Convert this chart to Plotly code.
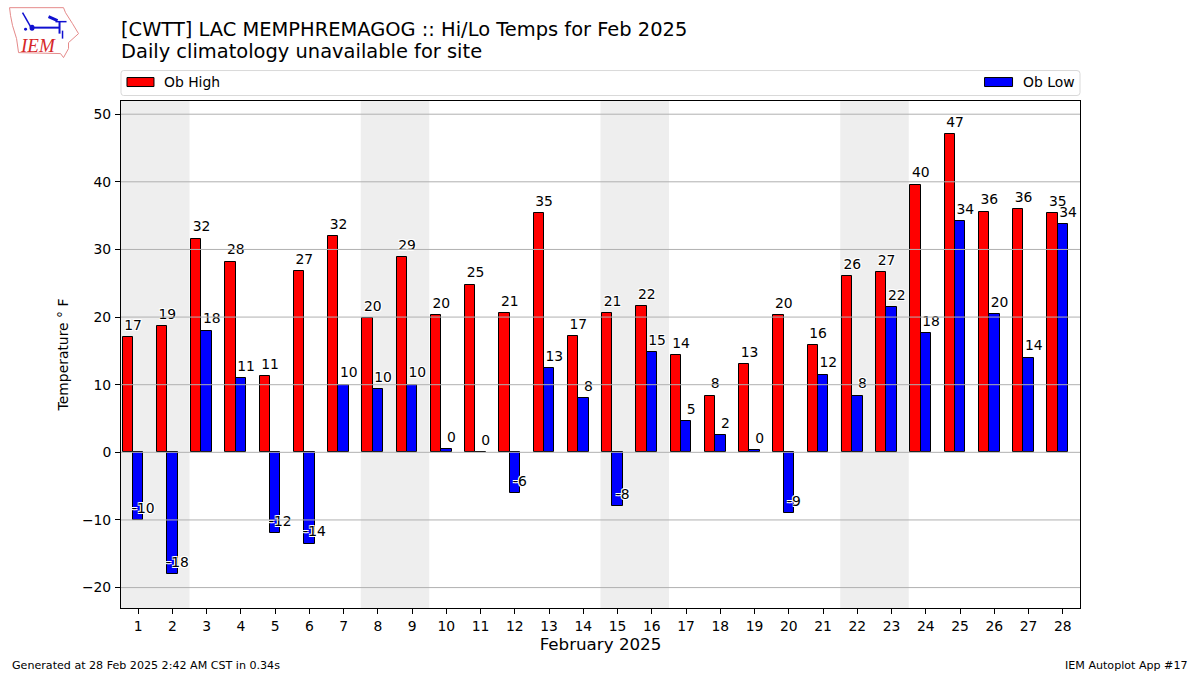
import plotly.graph_objects as go

days = list(range(1, 29))
ob_high = [17, 18.7, 31.6, 28.2, 11.3, 26.8, 32, 19.9, 28.9, 20.3, 24.8, 20.6, 35.4, 17.2,
           20.6, 21.6, 14.4, 8.4, 13, 20.3, 15.9, 26, 26.6, 39.6, 47, 35.6, 36, 35.4]
ob_low = [-10, -18, 18, 11, -12, -13.5, 10, 9.4, 10, 0.5, 0, -6, 12.5, 8,
          -8, 14.8, 4.6, 2.5, 0.3, -9, 11.5, 8.4, 21.5, 17.6, 34.2, 20.4, 14, 33.8]
high_labels = [17, 19, 32, 28, 11, 27, 32, 20, 29, 20, 25, 21, 35, 17,
               21, 22, 14, 8, 13, 20, 16, 26, 27, 40, 47, 36, 36, 35]
low_labels = [-10, -18, 18, 11, -12, -14, 10, 10, 10, 0, 0, -6, 13, 8,
              -8, 15, 5, 2, 0, -9, 12, 8, 22, 18, 34, 20, 14, 34]
weekend_spans = [(0.5, 2.5), (7.5, 9.5), (14.5, 16.5), (21.5, 23.5)]
y_ticks = [-20, -10, 0, 10, 20, 30, 40, 50]

FONT = "DejaVu Sans"
W, H = 1200, 675
L, R, T, B = 120.5, 1080, 100.5, 608.5
HALO = "1px 1px 0 #fff, -1px -1px 0 #fff, 1px -1px 0 #fff, -1px 1px 0 #fff"


def px(x):
    return (x - L) / (R - L)


def py(y):
    return (B - y) / (B - T)


fig = go.Figure()
fig.add_trace(go.Bar(x=[d - 0.3 for d in days], y=ob_high, width=0.3, name="Ob High",
                     marker=dict(color="#ff0000", line=dict(color="black", width=1)),
                     showlegend=False))
fig.add_trace(go.Bar(x=days, y=ob_low, width=0.3, name="Ob Low",
                     marker=dict(color="#0000ff", line=dict(color="black", width=1)),
                     showlegend=False))

for values, labels, off in ((ob_high, high_labels, -0.15), (ob_low, low_labels, 0.15)):
    fig.add_trace(go.Scatter(x=[d + off for d in days], y=[v + 0.55 for v in values],
                             text=[str(v) for v in labels], mode="text",
                             textposition="top center", showlegend=False, hoverinfo="skip",
                             textfont=dict(family=FONT, size=13.9, color="black", shadow=HALO)))

shapes = []
for x0, x1 in weekend_spans:
    shapes.append(dict(type="rect", xref="x", yref="paper", x0=x0, x1=x1, y0=0, y1=1,
                       fillcolor="#eeeeee", line_width=0, layer="below"))
for t in y_ticks:
    shapes.append(dict(type="line", xref="paper", yref="y", x0=0, x1=1, y0=t, y1=t,
                       line=dict(color="#b0b0b0", width=1), layer="above"))

# Legend frame and swatches
shapes.append(dict(type="path", xref="paper", yref="paper", layer="above",
                   path=(f"M {px(123)} {py(70)} L {px(1077)} {py(70)} Q {px(1080)} {py(70)} {px(1080)} {py(73)} "
                         f"L {px(1080)} {py(92)} Q {px(1080)} {py(95)} {px(1077)} {py(95)} "
                         f"L {px(123)} {py(95)} Q {px(120.5)} {py(95)} {px(120.5)} {py(92)} "
                         f"L {px(120.5)} {py(73)} Q {px(120.5)} {py(70)} {px(123)} {py(70)} Z"),
                   line=dict(color="#d9d9d9", width=1), fillcolor="white"))
shapes.append(dict(type="rect", xref="paper", yref="paper", x0=px(126.5), x1=px(153.5),
                   y0=py(86), y1=py(77), fillcolor="#ff0000", line=dict(color="black", width=1)))
shapes.append(dict(type="rect", xref="paper", yref="paper", x0=px(984.5), x1=px(1012.5),
                   y0=py(86), y1=py(77), fillcolor="#0000ff", line=dict(color="black", width=1)))

# IEM logo drawn as vector shapes
iowa = [(9, 7), (63, 7), (65, 12), (72, 23), (78, 33), (68, 42), (68, 48), (63, 57),
        (60, 53), (18, 52), (16, 38), (12, 25), (10, 15)]
shapes.append(dict(type="path", xref="paper", yref="paper", layer="above",
                   path="M " + " L ".join(f"{px(x)} {py(y)}" for x, y in iowa) + " Z",
                   line=dict(color="#e58a8a", width=1)))
for x0, y0, x1, y1, w in [(31, 27, 59, 27, 2), (22, 12, 30, 26, 1.5), (55, 21, 66, 21, 1.5),
                          (59, 21, 59, 33, 2), (48, 16, 57, 20, 3), (62, 30, 62, 38, 1.5)]:
    shapes.append(dict(type="line", xref="paper", yref="paper", x0=px(x0), x1=px(x1),
                       y0=py(y0), y1=py(y1), line=dict(color="#1010d0", width=w)))
for x0, y0, x1, y1 in [(29, 24, 34, 30), (23.5, 27, 26.5, 30)]:
    shapes.append(dict(type="circle", xref="paper", yref="paper", x0=px(x0), x1=px(x1),
                       y0=py(y1), y1=py(y0), fillcolor="#1010d0", line_width=0))

annotations = [
    dict(text="[CWTT] LAC MEMPHREMAGOG :: Hi/Lo Temps for Feb 2025", x=px(118), y=py(29),
         font=dict(size=19.45)),
    dict(text="Daily climatology unavailable for site", x=px(118), y=py(51), font=dict(size=19.45)),
    dict(text="Ob High", x=px(162), y=py(81.5), font=dict(size=13.9)),
    dict(text="Ob Low", x=px(1021), y=py(81.5), font=dict(size=13.9)),
    dict(text="Generated at 28 Feb 2025 2:42 AM CST in 0.34s", x=px(9.5), y=py(666), font=dict(size=11.1)),
    dict(text="IEM Autoplot App #17", x=px(1190), y=py(666), xanchor="right", font=dict(size=11.1)),
    dict(text="<i>IEM</i>", x=px(37.5), y=py(45), xanchor="center",
         font=dict(size=19, color="#d62728", family="Liberation Serif")),
]
for a in annotations:
    a.setdefault("xanchor", "left")
    a["font"].setdefault("family", FONT)
    a["font"].setdefault("color", "black")
    a.update(xref="paper", yref="paper", yanchor="middle", showarrow=False)

fig.update_layout(
    width=W, height=H, autosize=False, barmode="overlay", bargap=0,
    paper_bgcolor="white", plot_bgcolor="white",
    margin=dict(l=L, r=W - R, t=T, b=H - B, autoexpand=False),
    font=dict(family=FONT, size=13.9, color="black"),
    shapes=shapes, annotations=annotations, showlegend=False,
    xaxis=dict(range=[0.5, 28.5], tickmode="array", tickvals=days, ticktext=[str(d) for d in days],
               showgrid=False, zeroline=False, showline=True, mirror=True, linecolor="black", linewidth=1,
               ticks="outside", ticklen=5, tickwidth=1, tickcolor="black",
               title=dict(text="February 2025", font=dict(size=16.7), standoff=5)),
    yaxis=dict(range=[-23.02, 51.95], tickmode="array", tickvals=y_ticks,
               showgrid=False, zeroline=False, showline=True, mirror=True, linecolor="black", linewidth=1,
               ticks="outside", ticklen=5, tickwidth=1, tickcolor="black", ticklabelstandoff=1,
               title=dict(text="Temperature ° F", font=dict(size=13.9, color="black"), standoff=10)),
)

fig.write_html("out.html", config={"displayModeBar": False},
               post_script='document.body.style.margin="0";')
